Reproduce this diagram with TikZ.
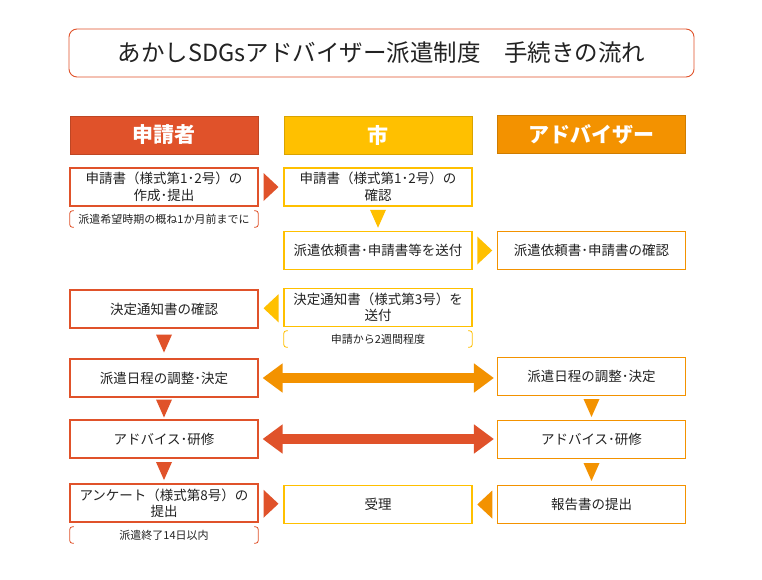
\documentclass[tikz,border=0pt]{standalone}
\usepackage{fontspec}
\setmainfont{Noto Sans CJK JP}
\usetikzlibrary{calc,arrows.meta}
\definecolor{cred}{HTML}{E0522A}
\definecolor{cyel}{HTML}{FFC000}
\definecolor{corg}{HTML}{F39200}
\definecolor{ctxt}{HTML}{222222}
\newcommand\TriR[2]{\fill[#1] ($#2+(-7.5,-14)$) -- ($#2+(7.5,0)$) -- ($#2+(-7.5,14)$) -- cycle;}
\newcommand\TriL[2]{\fill[#1] ($#2+(7.5,-14)$) -- ($#2+(-7.5,0)$) -- ($#2+(7.5,14)$) -- cycle;}
\newcommand\TriD[2]{\fill[#1] ($#2+(-8,-9)$) -- ($#2+(8,-9)$) -- ($#2+(0,9)$) -- cycle;}
\newcommand\Brk[2]{\draw[#1, line width=0.8pt, rounded corners=2.5pt]
  ($(#2.north west)+(4,0)$) -- (#2.north west) -- (#2.south west) -- ($(#2.south west)+(4,0)$)
  ($(#2.north east)+(-4,0)$) -- (#2.north east) -- (#2.south east) -- ($(#2.south east)+(-4,0)$);}
\begin{document}
\begin{tikzpicture}[x=1pt,y=-1pt,
  box/.style={draw, line width=1.2pt, fill=white, minimum width=188pt, minimum height=38pt,
    inner sep=0pt, align=center, text=ctxt, font=\fontsize{13.5}{16.5}\selectfont},
  boxa/.style={box, draw=cred},
  boxb/.style={box, draw=cyel},
  boxc/.style={box, draw=corg},
  head/.style={minimum width=188pt, minimum height=38pt, inner sep=0pt, text=white,
    font=\fontsize{21}{24}\selectfont\bfseries},
  note/.style={minimum width=188pt, minimum height=16pt, inner sep=0pt, text=ctxt,
    font=\fontsize{11}{13}\selectfont},
  dbl/.style={line width=10pt, {Triangle[length=20pt,width=28pt]}-{Triangle[length=20pt,width=28pt]}}
]
\useasboundingbox (0,0) rectangle (762,579);
\fill[white] (0,0) rectangle (762,579);

\node[draw=cred, line width=0.9pt, rounded corners=8pt, minimum width=625pt, minimum height=48pt,
  inner sep=0pt, text=ctxt, font=\fontsize{23.5}{27}\selectfont] (title) at (381.5,53)
  {あかしSDGsアドバイザー派遣制度　手続きの流れ};

\node[head, fill=cred, draw=cred!85!black, line width=0.8pt] (ha) at (164,135) {申請者};
\node[head, fill=cyel, draw=cyel!85!black, line width=0.8pt] (hb) at (378,135) {市};
\node[head, fill=corg, draw=corg!85!black, line width=0.8pt] (hc) at (591.5,134.5) {アドバイザー};

% row 1
\node[boxa] (a1) at (164,187) {申請書（様式第1･2号）の\\作成･提出};
\node[boxb] (b1) at (378,187) {申請書（様式第1･2号）の\\確認};
\node[note] (n1) at (164,219) {派遣希望時期の概ね1か月前までに};
% row 2
\node[boxb] (b2) at (378,250.5) {派遣依頼書･申請書等を送付};
\node[boxc] (c2) at (591.5,250.5) {派遣依頼書･申請書の確認};
% row 3
\node[boxa] (a3) at (164,309) {決定通知書の確認};
\node[boxb] (b3) at (378,307.5) {決定通知書（様式第3号）を\\送付};
\node[note] (n3) at (378,339) {申請から2週間程度};
% row 4
\node[boxa] (a4) at (164,378) {派遣日程の調整･決定};
\node[boxc] (c4) at (591.5,376.5) {派遣日程の調整･決定};
% row 5
\node[boxa] (a5) at (164,439) {アドバイス･研修};
\node[boxc] (c5) at (591.5,439.5) {アドバイス･研修};
% row 6
\node[boxa] (a6) at (164,503) {アンケート（様式第8号）の\\提出};
\node[boxb] (b6) at (378,504.5) {受理};
\node[boxc] (c6) at (591.5,504.5) {報告書の提出};
\node[note] (n6) at (164,535) {派遣終了14日以内};

\Brk{cred}{n1}
\Brk{cyel}{n3}
\Brk{cred}{n6}

% triangles
\TriR{cred}{(a1.east)!0.5!(b1.west)}
\TriD{cyel}{(b1.south)!0.5!(b2.north)}
\TriR{cyel}{(b2.east)!0.5!(c2.west)}
\TriL{cyel}{(b3.west)!0.5!(a3.east)}
\TriD{cred}{(a3.south)!0.5!(a4.north)}
\TriD{cred}{(a4.south)!0.5!(a5.north)}
\TriD{corg}{(c4.south)!0.5!(c5.north)}
\TriD{cred}{(a5.south)!0.5!(a6.north)}
\TriD{corg}{(c5.south)!0.5!(c6.north)}
\TriR{cred}{(a6.east)!0.5!(b6.west)}
\TriL{corg}{(c6.west)!0.5!(b6.east)}

% double arrows
\draw[dbl, corg] ($(a4.east)+(4,0)$) -- ($(c4.west |- a4.east)+(-3,0)$);
\draw[dbl, cred] ($(a5.east)+(4,0)$) -- ($(c5.west |- a5.east)+(-3,0)$);
\end{tikzpicture}
\end{document}
